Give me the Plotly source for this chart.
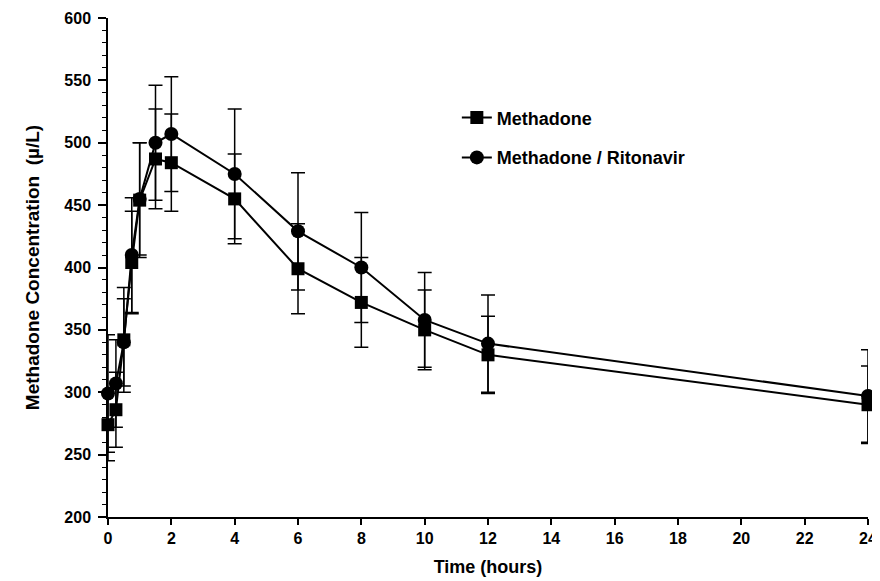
import plotly.graph_objects as go

# Data
time_hours = [0, 0.25, 0.5, 0.75, 1, 1.5, 2, 4, 6, 8, 10, 12, 24]
methadone = [274, 286, 342, 404, 454, 487, 484, 455, 399, 372, 350, 330, 290]
methadone_sd = [29, 30, 42, 41, 46, 40, 39, 36, 36, 36, 32, 31, 31]
methadone_ritonavir = [299, 307, 340, 410, 455, 500, 507, 475, 429, 400, 358, 339, 297]
methadone_ritonavir_sd = [47, 35, 35, 46, 45, 46, 46, 52, 47, 44, 38, 39, 37]

x_ticks = list(range(0, 25, 2))
y_ticks = list(range(200, 601, 50))

FONT = "Liberation Sans, Arial, sans-serif"

fig = go.Figure()

fig.add_trace(go.Scatter(
    x=time_hours, y=methadone, name="Methadone",
    mode="lines+markers",
    line=dict(color="black", width=2),
    marker=dict(symbol="square", size=13, color="black"),
    error_y=dict(type="data", array=methadone_sd, visible=True,
                 color="black", thickness=1.5, width=7),
    cliponaxis=False,
    legend="legend",
))

fig.add_trace(go.Scatter(
    x=time_hours, y=methadone_ritonavir, name="Methadone / Ritonavir",
    mode="lines+markers",
    line=dict(color="black", width=2),
    marker=dict(symbol="circle", size=14, color="black"),
    error_y=dict(type="data", array=methadone_ritonavir_sd, visible=True,
                 color="black", thickness=1.5, width=7),
    cliponaxis=False,
    legend="legend2",
))

legend_common = dict(
    font=dict(family=FONT, size=18, color="black", weight="bold"),
    bgcolor="rgba(0,0,0,0)",
    xanchor="left", yanchor="middle",
)

# The page places the figure 8px from the window's top-left corner,
# so the figure is sized to fit the 880x581 window.
fig.update_layout(
    width=872, height=573,
    margin=dict(l=100, r=12, t=10, b=64),
    paper_bgcolor="white", plot_bgcolor="white",
    font=dict(family=FONT, color="black"),
    showlegend=True,
    legend=dict(x=0.459, y=0.80, **legend_common),
    legend2=dict(x=0.459, y=0.72, **legend_common),
    xaxis=dict(
        range=[0, 24], automargin=False,
        tickmode="array", tickvals=x_ticks, ticktext=[str(v) for v in x_ticks],
        showgrid=False, zeroline=False,
        showline=True, linecolor="black", linewidth=1.5,
        ticks="outside", ticklen=6, tickwidth=1.5, tickcolor="black",
        tickfont=dict(family=FONT, size=16, color="black", weight="bold"),
        title=dict(text="Time (hours)",
                   font=dict(family=FONT, size=18, color="black", weight="bold"),
                   standoff=14),
    ),
    yaxis=dict(
        range=[200, 600], automargin=False,
        tickmode="array", tickvals=y_ticks, ticktext=[str(v) for v in y_ticks],
        showgrid=False, zeroline=False,
        showline=True, linecolor="black", linewidth=1.5,
        ticks="outside", ticklen=8, tickwidth=1.5, tickcolor="black",
        ticklabelstandoff=4,
        minor=dict(dtick=10, ticks="outside", ticklen=4, tickwidth=1, tickcolor="black",
                   showgrid=False),
        tickfont=dict(family=FONT, size=16, color="black", weight="bold"),
        title=dict(text="Methadone Concentration  (µ/L)",
                   font=dict(family=FONT, size=19, color="black", weight="bold"),
                   standoff=20),
    ),
)

fig.write_html("out.html")
